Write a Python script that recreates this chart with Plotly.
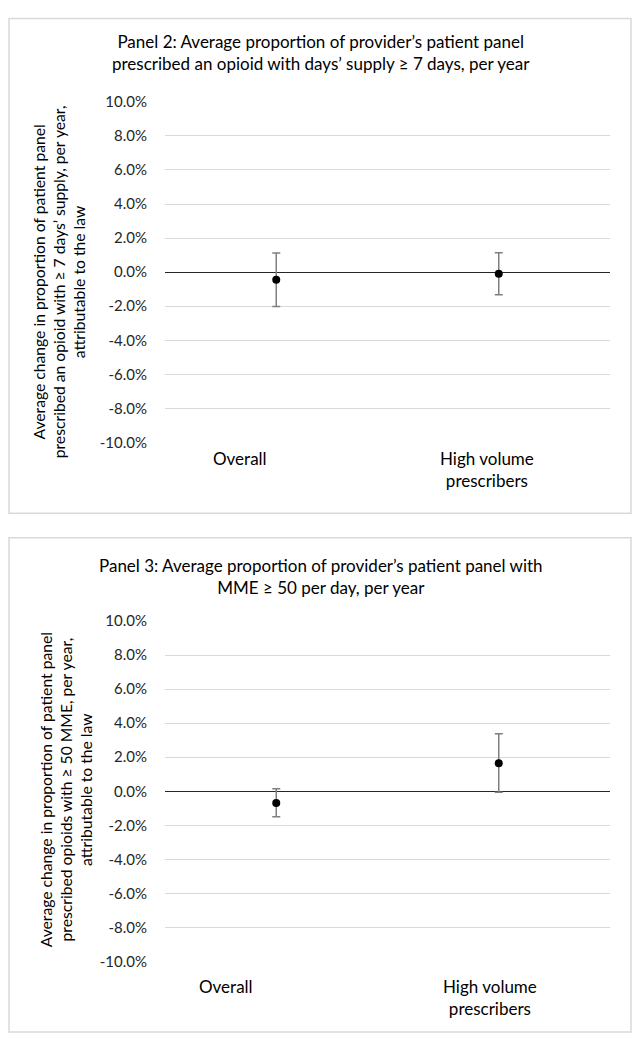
import plotly.graph_objects as go

categories = ["Overall", "High volume<br>prescribers"]

# Panel 2 values (percent)
p2_est = [-0.45, -0.10]
p2_upper = [1.12, 1.14]
p2_lower = [-2.02, -1.33]

# Panel 3 values (percent)
p3_est = [-0.68, 1.65]
p3_upper = [0.15, 3.38]
p3_lower = [-1.50, -0.05]

y_ticks = [-10, -8, -6, -4, -2, 0, 2, 4, 6, 8, 10]

FONT = "Lato"
# The page body has an 8px margin, so the figure is sized to fit the window
OFF = 8
W, H = 643 - 2 * OFF, 1050 - 2 * OFF


def px_y(py):
    return 1 - (py - OFF) / H


def px_x(px):
    return (px - OFF) / W


fig = go.Figure()

panels = [
    dict(est=p2_est, up=p2_upper, lo=p2_lower, xa="x", ya="y",
         ydom=[px_y(440), px_y(93.3)],
         title="Panel 2: Average proportion of provider’s patient panel<br>prescribed an opioid with days’ supply ≥ 7 days, per year",
         title_y=43,
         ytitle="Average change in proportion of patient panel<br>prescribed an opioid with ≥ 7 days’ supply, per year,<br>attributable to the law",
         ytitle_x=59, ytitle_y=277,
         cat_y=455, shifts=[-36, -12], box=(9, 8.5, 631, 512)),
    dict(est=p3_est, up=p3_upper, lo=p3_lower, xa="x2", ya="y2",
         ydom=[px_y(968.3), px_y(621.7)],
         title="Panel 3: Average proportion of provider’s patient panel with<br>MME ≥ 50 per day, per year",
         title_y=576,
         ytitle="Average change in proportion of patient panel<br>prescribed opioids with ≥ 50 MME, per year,<br>attributable to the law",
         ytitle_x=66, ytitle_y=794,
         cat_y=992, shifts=[-50, -9], box=(9, 537, 631, 1040)),
]

xdom = [px_x(165), px_x(610)]

for i, p in enumerate(panels):
    xs = list(range(len(categories)))
    err_plus = [u - e for u, e in zip(p["up"], p["est"])]
    err_minus = [e - l for e, l in zip(p["est"], p["lo"])]
    fig.add_trace(go.Scatter(
        x=xs, y=p["est"], mode="markers", xaxis=p["xa"], yaxis=p["ya"],
        marker=dict(color="black", size=8),
        error_y=dict(type="data", symmetric=False, array=err_plus,
                     arrayminus=err_minus, color="#7f7f7f", thickness=1.5, width=4),
        showlegend=False, hoverinfo="skip",
    ))
    suffix = "" if i == 0 else "2"
    fig.update_layout(**{
        "xaxis" + suffix: dict(domain=xdom, range=[-0.5, 1.5], showgrid=False,
                               zeroline=False, showticklabels=False, showline=False,
                               anchor="y" + suffix, fixedrange=True),
        "yaxis" + suffix: dict(domain=p["ydom"], range=[-10, 10], tickvals=y_ticks,
                               ticktext=[f"{v:.1f}%" for v in y_ticks],
                               showgrid=True, gridcolor="#d9d9d9", gridwidth=1,
                               zeroline=True, zerolinecolor="#262626", zerolinewidth=1.2,
                               showline=False, ticks="", ticklabelstandoff=17,
                               tickfont=dict(family=FONT, size=15, color="#262626"),
                               anchor="x" + suffix, fixedrange=True),
    })
    # panel border
    x0, y0, x1, y1 = p["box"]
    fig.add_shape(type="rect", xref="paper", yref="paper",
                  x0=px_x(x0), x1=px_x(x1), y0=px_y(y1), y1=px_y(y0),
                  line=dict(color="#d9d9d9", width=1.5), fillcolor="rgba(0,0,0,0)")
    # title
    fig.add_annotation(text=p["title"], xref="paper", yref="paper",
                       x=px_x(321), y=px_y(p["title_y"]), showarrow=False,
                       xanchor="center", yanchor="middle",
                       font=dict(family=FONT, size=17, color="#000000"))
    # y title
    fig.add_annotation(text=p["ytitle"], xref="paper", yref="paper",
                       x=px_x(p["ytitle_x"]), y=px_y(p["ytitle_y"]), showarrow=False,
                       textangle=-90, xanchor="center", yanchor="middle",
                       font=dict(family=FONT, size=15.7, color="#000000"))
    # category labels
    for j, c in enumerate(categories):
        fig.add_annotation(text=c, xref=p["xa"], yref="paper", x=j,
                           y=px_y(p["cat_y"] - 11), xshift=p["shifts"][j], showarrow=False,
                           xanchor="center", yanchor="top",
                           font=dict(family=FONT, size=17, color="#000000"))

fig.update_layout(width=W, height=H, margin=dict(l=0, r=0, t=0, b=0),
                  plot_bgcolor="white", paper_bgcolor="white")

fig.write_html("out.html")
